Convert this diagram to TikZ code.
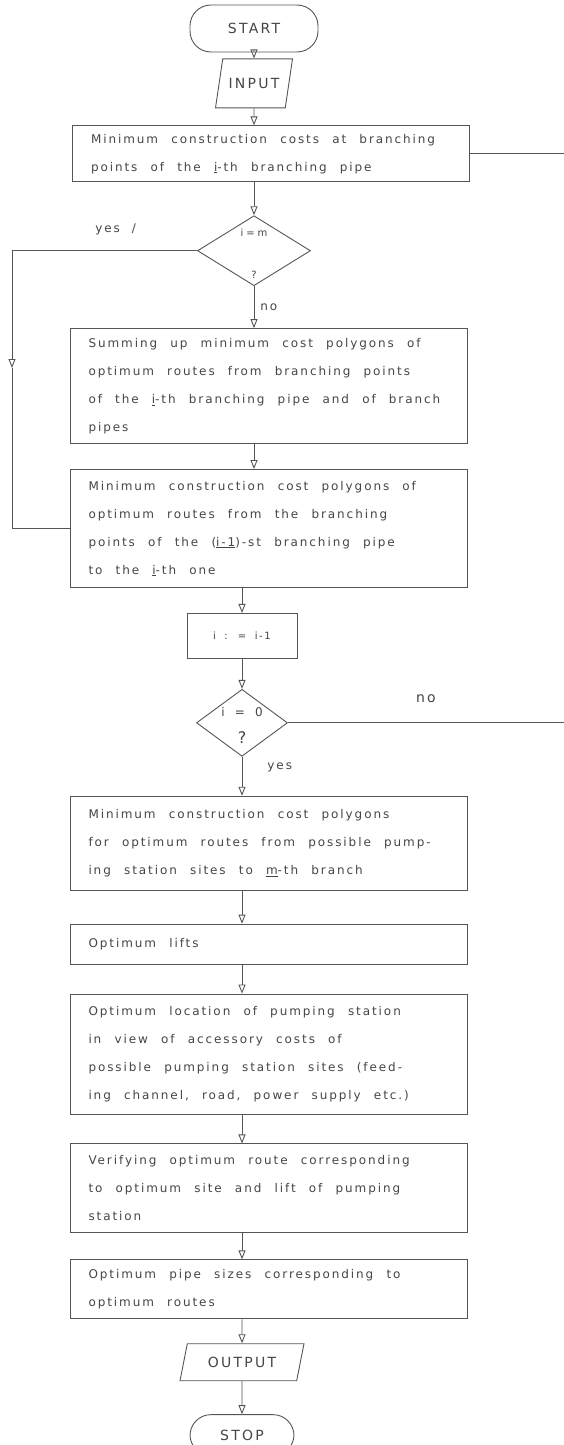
\documentclass[tikz,border=0pt]{standalone}
\usepackage{fontspec}
\setmainfont{DejaVu Sans}[LetterSpace=16,WordSpace=2.3]
\usetikzlibrary{arrows.meta,positioning,shapes.geometric}
\definecolor{Ink}{HTML}{454545}
\definecolor{Pencil}{HTML}{555555}
\newcommand\narrowgaps{\spaceskip=.3em\relax}
\newcommand\widegaps{\spaceskip=.85em\relax}
\tikzset{
  box/.style={draw=Pencil,line width=.9pt,text width=360pt,align=flush left,inner xsep=18.5pt,inner ysep=0pt,text=Ink,font=\fontsize{12}{28}\selectfont},
  terminal/.style={draw=Pencil,line width=.9pt,rounded corners=21pt,minimum width=128pt,minimum height=47pt,text=Ink,font=\fontsize{14}{16}\selectfont},
  io/.style={trapezium,trapezium left angle=67,trapezium right angle=113,trapezium stretches body,draw=Pencil,line width=.9pt,minimum width=77pt,minimum height=49pt,inner xsep=1pt,text=Ink,font=\fontsize{14}{16}\selectfont},
  test/.style={diamond,draw=Pencil,line width=.9pt,inner sep=0pt,minimum width=113pt,minimum height=70pt},
  stepbox/.style={draw=Pencil,line width=.9pt,minimum width=110pt,minimum height=45pt,text=Ink,font=\fontsize{10}{12}\selectfont\widegaps},
  qtext/.style={align=center,inner sep=0pt,text=Ink},
  tag/.style={text=Ink,inner sep=1pt,font=\fontsize{12}{14}\selectfont},
  flow/.style={-{Triangle[open,length=9pt,width=7pt]},draw=Pencil,line width=.9pt},
  plainline/.style={draw=Pencil,line width=.9pt}
}
\begin{document}
\begin{tikzpicture}[node distance=25pt]
  \useasboundingbox (0,0) rectangle (564pt,-1445pt);
  \coordinate (edge) at (564pt,0);
  \coordinate (yesdown) at (12pt,-368pt);

  \node[terminal] (start) at (254pt,-28.5pt) {START};
  \node[io,below=6pt of start] (input) {INPUT};
  \node[box,minimum height=56pt,below=17pt of input,xshift=17pt] (cost) {Minimum construction costs at branching\\points of the \underline{i}-th branching pipe};
  \node[test,below=33pt of cost,xshift=-17pt] (last) {};
  \node[qtext,font=\fontsize{10}{42}\selectfont\narrowgaps] (lastq) at ([yshift=-3pt]last) {i = m\\?};
  \node[box,minimum height=115pt,below=42pt of last,xshift=14.5pt] (sum) {Summing up minimum cost polygons of\\optimum routes from branching points\\of the \underline{i}-th branching pipe and of branch\\pipes};
  \node[box,minimum height=118pt,below=of sum] (poly) {Minimum construction cost polygons of\\optimum routes from the branching\\points of the (\underline{i-1})-st branching pipe\\to the \underline{i}-th one};
  \node[stepbox,below=of poly,xshift=-26.5pt] (dec) {i : = i-1};
  \node[test,minimum width=91pt,minimum height=67pt,below=30pt of dec] (zero) {};
  \node[qtext,font=\fontsize{12}{27}\selectfont\widegaps] (zeroq) at ([yshift=-2.5pt]zero) {i = 0\\{\fontsize{16}{16}\selectfont ?}};
  \node[box,minimum height=94pt,below=39pt of zero,xshift=26.5pt] (pump) {Minimum construction cost polygons\\for optimum routes from possible pump-\\ing station sites to \underline{m}-th branch};
  \node[box,minimum height=40pt,below=33pt of pump] (lift) {Optimum lifts};
  \node[box,minimum height=120pt,below=29pt of lift] (site) {Optimum location of pumping station\\in view of accessory costs of\\possible pumping station sites (feed-\\ing channel, road, power supply etc.)};
  \node[box,minimum height=89pt,below=29pt of site] (verify) {Verifying optimum route corresponding\\to optimum site and lift of pumping\\station};
  \node[box,minimum height=59pt,below=26pt of verify] (size) {Optimum pipe sizes corresponding to\\optimum routes};
  \node[io,minimum width=124pt,minimum height=37pt,below=24pt of size,xshift=-26.5pt] (output) {OUTPUT};
  \node[terminal,minimum width=104pt,minimum height=41pt,below=33pt of output] (stop) {STOP};

  \draw[flow] (start) -- (input);
  \draw[flow] (input) -- (input |- cost.north);
  \draw[flow] (cost.south -| last) -- (last);
  \draw[flow] (last) -- node[tag,right=5pt] {no} (last |- sum.north);
  \draw[flow] (sum.south -| last) -- (poly.north -| last);
  \draw[flow] (poly.south -| dec) -- (dec);
  \draw[flow] (dec) -- (zero);
  \draw[flow] (zero) -- node[tag,pos=.26,right=24pt] {yes} (zero |- pump.north);
  \draw[flow] (pump.south -| zero) -- (lift.north -| zero);
  \draw[flow] (lift.south -| zero) -- (site.north -| zero);
  \draw[flow] (site.south -| zero) -- (verify.north -| zero);
  \draw[flow] (verify.south -| zero) -- (size.north -| zero);
  \draw[flow] (size.south -| output) -- (output);
  \draw[flow] (output) -- (stop);

  % loop back when i = m
  \draw[flow] (last.west) -| node[tag,pos=.22,above=14pt] {yes\quad/} (yesdown);
  \draw[plainline] (yesdown) |- (poly.west);
  % branches leaving the page on the right
  \draw[plainline] (cost.east) -- (cost.east -| edge);
  \draw[plainline] (zero.east) -- node[tag,above=19pt,font=\fontsize{14}{16}\selectfont] {no} (zero.east -| edge);
\end{tikzpicture}
\end{document}
